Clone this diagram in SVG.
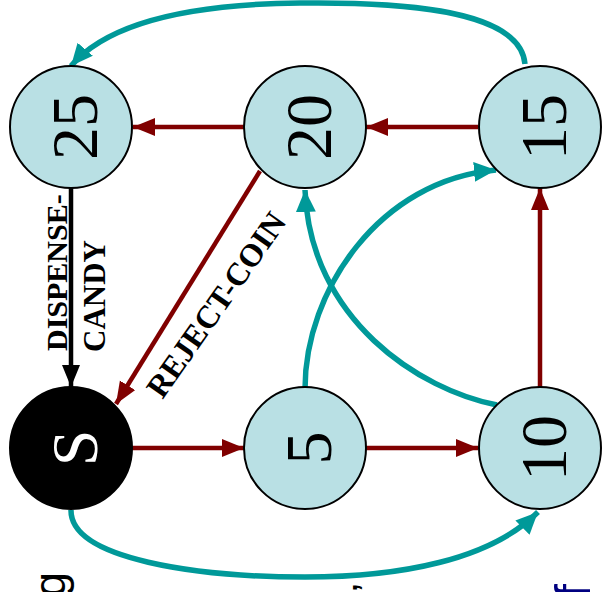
<svg xmlns="http://www.w3.org/2000/svg" width="602" height="592" viewBox="0 0 602 592">
<style>
.node{fill:#b9e0e4;stroke:#000;stroke-width:2}
.num{font-family:"Liberation Serif",serif;font-size:66px;text-anchor:middle;fill:#000}
.red{fill:none;stroke:#800000;stroke-width:4.5;marker-end:url(#ar)}
.teal{fill:none;stroke:#009999;stroke-width:5.5;marker-end:url(#at)}
.blk{fill:none;stroke:#000;stroke-width:4.5;marker-end:url(#ab)}
.lbl{font-family:"Liberation Serif",serif;font-weight:bold;font-size:30px;fill:#000}
</style>
<defs>
<marker id="ar" markerUnits="userSpaceOnUse" markerWidth="24" markerHeight="20" refX="22" refY="9" orient="auto"><path d="M0,0 L22,9 L0,18 z" fill="#800000"/></marker>
<marker id="at" markerUnits="userSpaceOnUse" markerWidth="24" markerHeight="22" refX="22" refY="10" orient="auto"><path d="M0,0 L22,10 L0,20 z" fill="#009999"/></marker>
<marker id="ab" markerUnits="userSpaceOnUse" markerWidth="24" markerHeight="20" refX="22" refY="9" orient="auto"><path d="M0,0 L22,9 L0,18 z" fill="#000"/></marker>
</defs>
<g id="connectors">
<path class="red" d="M244,127 L133,127"/>
<path class="red" d="M478,127 L366,127"/>
<path class="red" d="M540,387 L540,188"/>
<path class="red" d="M132,448 L244,448"/>
<path class="red" d="M366,448 L478,448"/>
<path class="red" d="M260,171 L116,404"/>
<path class="blk" d="M71,188 L71,387"/>
<path class="teal" d="M525,64 C520,5 380,2 300,3 C200,4 110,20 71,66"/>
<path class="teal" d="M71,510 C70,560 200,577 305,577 C400,577 490,560 538,512"/>
<path class="teal" d="M305,389 C305,290 380,180 496,170"/>
<path class="teal" d="M497,405 C420,390 310,320 305,190"/>
</g>
<g id="n25"><circle class="node" cx="71" cy="127" r="61"/><text class="num" transform="translate(71,127) rotate(-90)" y="26">25</text></g>
<g id="n20"><circle class="node" cx="305" cy="127" r="61"/><text class="num" transform="translate(305,127) rotate(-90)" y="26">20</text></g>
<g id="n15"><circle class="node" cx="540" cy="127" r="61"/><text class="num" transform="translate(540,127) rotate(-90)" y="26">15</text></g>
<g id="nS"><circle cx="71" cy="448" r="61" fill="#000" stroke="#000" stroke-width="2"/><text class="num" style="fill:#fff" transform="translate(71,448) rotate(-90)" y="26">S</text></g>
<g id="n5"><circle class="node" cx="305" cy="448" r="61"/><text class="num" transform="translate(305,448) rotate(-90)" y="26">5</text></g>
<g id="n10"><circle class="node" cx="540" cy="448" r="61"/><text class="num" transform="translate(540,448) rotate(-90)" y="26">10</text></g>
<g id="labels">
<text class="lbl" transform="translate(67,351) rotate(-90)">DISPENSE-</text>
<text class="lbl" style="font-size:31px" transform="translate(105,352) rotate(-90)">CANDY</text>
<text class="lbl" style="font-size:32px" text-anchor="middle" transform="translate(225,311) rotate(-55)">REJECT-COIN</text>
</g>
<g id="fragments">
<text font-family="Liberation Sans,sans-serif" font-size="45" transform="translate(65,597) rotate(-90)">g</text>
<text font-family="Liberation Sans,sans-serif" font-size="40" transform="translate(381,592) rotate(-90)">’</text>
<text font-family="Liberation Sans,sans-serif" font-size="50" fill="#000080" transform="translate(590,598) rotate(-90)">f</text>
</g>
</svg>
